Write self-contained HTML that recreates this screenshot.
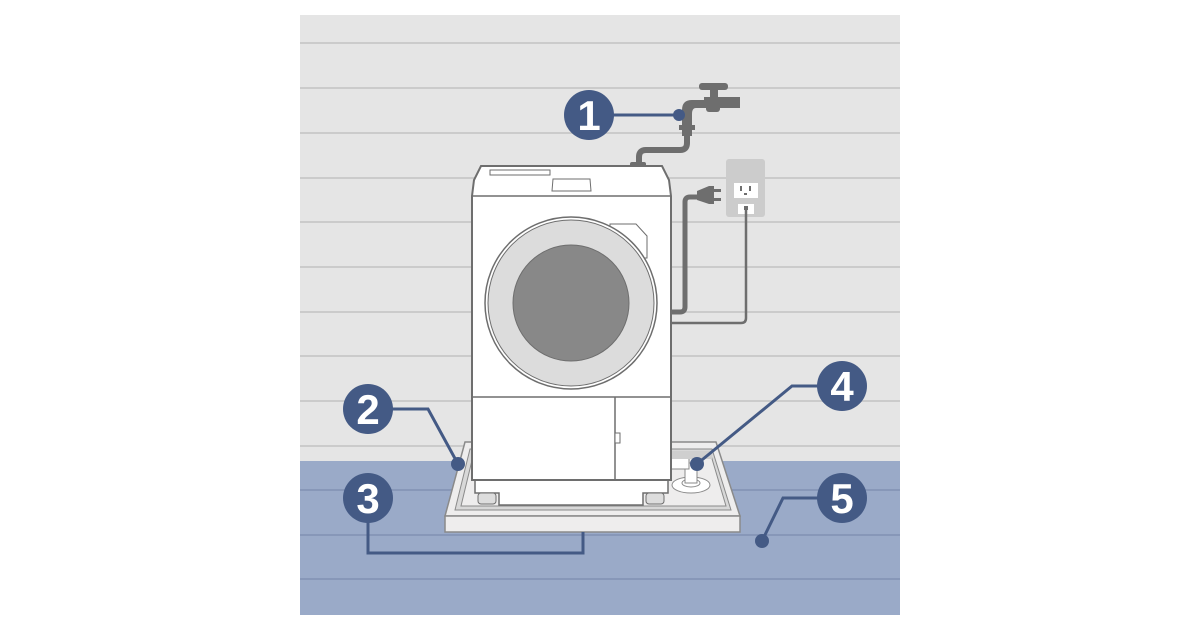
<!DOCTYPE html>
<html><head><meta charset="utf-8"><style>html,body{margin:0;padding:0;background:#fff;width:1200px;height:630px;overflow:hidden}</style></head>
<body>
<svg width="1200" height="630" viewBox="0 0 1200 630" xmlns="http://www.w3.org/2000/svg">
<rect x="300" y="15" width="600" height="600" fill="#e5e5e5"/>
<g stroke="#cbcbcb" stroke-width="2">
<line x1="300" y1="43" x2="900" y2="43"/><line x1="300" y1="88" x2="900" y2="88"/>
<line x1="300" y1="133" x2="900" y2="133"/><line x1="300" y1="178" x2="900" y2="178"/>
<line x1="300" y1="222" x2="900" y2="222"/><line x1="300" y1="267" x2="900" y2="267"/>
<line x1="300" y1="312" x2="900" y2="312"/><line x1="300" y1="356" x2="900" y2="356"/>
<line x1="300" y1="401" x2="900" y2="401"/><line x1="300" y1="446" x2="900" y2="446"/>
</g>
<rect x="300" y="461" width="600" height="154" fill="#9aaac8"/>
<g stroke="#8797b8" stroke-width="2">
<line x1="300" y1="490" x2="900" y2="490"/><line x1="300" y1="535" x2="900" y2="535"/><line x1="300" y1="579" x2="900" y2="579"/>
</g>
<g fill="#6e6e6e">
<rect x="699" y="83" width="29" height="7" rx="3"/>
<rect x="710" y="86" width="8" height="14"/>
<rect x="704" y="97" width="36" height="11"/>
<rect x="706" y="102" width="14" height="10" rx="3"/>
<path d="M682 125 V110 Q682 100 692 100 H706 V108 H696 Q692 108 692 114 V125 Z"/>
<rect x="679" y="125" width="16" height="5"/>
<rect x="682" y="130" width="10" height="6"/>
</g>
<path d="M687 134 V143 Q687 150 680 150 H646 Q639 150 639 157 V166" fill="none" stroke="#6e6e6e" stroke-width="6"/>
<rect x="630" y="162" width="16" height="5" rx="2" fill="#6e6e6e"/>
<rect x="726" y="159" width="39" height="58" rx="3" fill="#cccccc"/>
<rect x="734" y="183" width="24" height="15" fill="#fff"/>
<rect x="740" y="186" width="2" height="5" fill="#6e6e6e"/><rect x="749" y="186" width="2" height="5" fill="#6e6e6e"/><rect x="744" y="193" width="3" height="2" fill="#6e6e6e"/>
<rect x="738" y="204" width="16" height="10" fill="#fff"/><rect x="744" y="206" width="4" height="4" fill="#6e6e6e"/>
<path d="M746 210 V318 Q746 323 741 323 H671" fill="none" stroke="#6e6e6e" stroke-width="2.5"/>
<path d="M671 312 H680 Q685 312 685 307 V202 Q685 197 690 197 H700" fill="none" stroke="#6e6e6e" stroke-width="5"/>
<path d="M697 191 L709 186 H714 V204 H709 L697 200 Z" fill="#6e6e6e"/>
<rect x="713" y="189" width="8" height="3" fill="#6e6e6e"/><rect x="713" y="198" width="8" height="3" fill="#6e6e6e"/>
<path d="M465 442 H716 L740 516 H445 Z" fill="#eeeded" stroke="#8a8a8a" stroke-width="1.5"/>
<path d="M470 449 H712 L731 510 H455 Z" fill="#d8d8d8" stroke="#8a8a8a" stroke-width="1"/>
<path d="M474 452 H710 L726 506 H461 Z" fill="#eeeded" stroke="#8a8a8a" stroke-width="1"/>
<rect x="445" y="516" width="295" height="16" fill="#eeeded" stroke="#8a8a8a" stroke-width="1.5"/>
<ellipse cx="691" cy="485" rx="19" ry="8" fill="#fff" stroke="#8a8a8a"/>
<ellipse cx="691" cy="483" rx="9" ry="4" fill="#fff" stroke="#8a8a8a"/>
<rect x="685" y="463" width="12" height="20" fill="#fff" stroke="#8a8a8a"/>
<rect x="671" y="455" width="18" height="14" fill="#fff" stroke="#8a8a8a"/>
<rect x="672" y="451" width="40" height="8" fill="#cfcfcf"/>
<path d="M475 480 V493 H499 V505 H643 V493 H668 V480" fill="#fff" stroke="#6e6e6e" stroke-width="1.5"/>
<rect x="478" y="493" width="18" height="11" rx="3" fill="#ddd" stroke="#6e6e6e"/>
<rect x="646" y="493" width="18" height="11" rx="3" fill="#ddd" stroke="#6e6e6e"/>
<path d="M481 166 H662 L669 180 L671 196 V480 H472 V196 L474 180 Z" fill="#fff" stroke="#6e6e6e" stroke-width="2"/>
<line x1="472" y1="196" x2="671" y2="196" stroke="#6e6e6e" stroke-width="1.5"/>
<rect x="490" y="170" width="60" height="5" fill="#fff" stroke="#6e6e6e"/>
<path d="M553 179 H590 L591 191 H552 Z" fill="#fff" stroke="#6e6e6e"/>
<path d="M610 224 H636 L647 236 V258 L610 258 Z" fill="#fff" stroke="#6e6e6e"/>
<line x1="472" y1="397" x2="671" y2="397" stroke="#6e6e6e" stroke-width="1.5"/>
<line x1="615" y1="397" x2="615" y2="480" stroke="#6e6e6e" stroke-width="1.5"/>
<rect x="615" y="433" width="5" height="10" fill="#fff" stroke="#6e6e6e"/>
<circle cx="571" cy="303" r="86" fill="#fff" stroke="#6e6e6e" stroke-width="1.5"/>
<circle cx="571" cy="303" r="83" fill="#dcdcdc" stroke="#6e6e6e"/>
<circle cx="571" cy="303" r="58" fill="#888" stroke="#6e6e6e"/>
<g fill="none" stroke="#445a85" stroke-width="3">
<line x1="589" y1="115" x2="679" y2="115"/>
<polyline points="368,409 428,409 458,464"/>
<polyline points="368,498 368,553 583,553 583,532"/>
<polyline points="842,386 792,386 697,464"/>
<polyline points="842,498 783,498 762,541"/>
</g>
<g fill="#445a85">
<circle cx="679" cy="115" r="6"/><circle cx="458" cy="464" r="7"/><circle cx="697" cy="464" r="7"/><circle cx="762" cy="541" r="7"/>
<circle cx="589" cy="115" r="25"/><circle cx="368" cy="409" r="25"/><circle cx="368" cy="498" r="25"/><circle cx="842" cy="386" r="25"/><circle cx="842" cy="498" r="25"/>
</g>
<g fill="#fff" font-family="Liberation Sans, sans-serif" font-weight="bold" font-size="42" text-anchor="middle">
<text x="589" y="130">1</text><text x="368" y="424">2</text><text x="368" y="513">3</text><text x="842" y="401">4</text><text x="842" y="513">5</text>
</g>
</svg>
</body></html>
